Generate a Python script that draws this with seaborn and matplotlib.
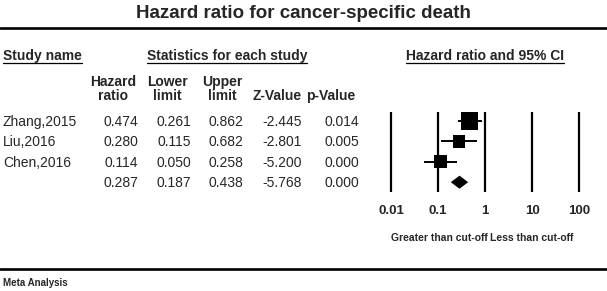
import matplotlib
matplotlib.use("Agg")
import matplotlib.pyplot as plt
import pandas as pd
import seaborn as sns
from matplotlib.lines import Line2D

studies = ["Zhang,2015", "Liu,2016", "Chen,2016", ""]
hazard_ratio = [0.474, 0.280, 0.114, 0.287]
lower_limit = [0.261, 0.115, 0.050, 0.187]
upper_limit = [0.862, 0.682, 0.258, 0.438]
z_value = [-2.445, -2.801, -5.200, -5.768]
p_value = [0.014, 0.005, 0.000, 0.000]
axis_ticks = [0.01, 0.1, 1, 10, 100]
tick_labels = ["0.01", "0.1", "1", "10", "100"]

W, H = 607, 291


def fx(x):
    return x / W


def fy(y):
    return 1 - y / H


sns.set_theme(style="white")
plt.rcParams["font.family"] = ["Liberation Sans", "DejaVu Sans"]

fig = plt.figure(figsize=(W / 100, H / 100), dpi=100)

# title and rules
fig.text(fx(303), fy(13.5), "Hazard ratio for cancer-specific death",
         ha="center", va="center", fontsize=13.5, fontweight="bold")
fig.add_artist(Line2D([0, 1], [fy(28), fy(28)], color="black", lw=1.9))
fig.add_artist(Line2D([0, 1], [fy(269), fy(269)], color="black", lw=1.9))
fig.text(fx(3), fy(283), "Meta Analysis", ha="left", va="center",
         fontsize=7, fontweight="bold")

# section headers (underlined)
headers = [
    fig.text(fx(3), fy(60), "Study name", ha="left", va="baseline",
             fontsize=10, fontweight="bold"),
    fig.text(fx(227), fy(60), "Statistics for each study", ha="center",
             va="baseline", fontsize=10, fontweight="bold"),
    fig.text(fx(485), fy(60), "Hazard ratio and 95% CI", ha="center",
             va="baseline", fontsize=10, fontweight="bold"),
]

col_centers = [113, 167, 222, 277, 331]
col_right = [138, 191, 243, 302, 359]
col_head = [("Hazard", "ratio"), ("Lower", "limit"), ("Upper", "limit"),
            ("", "Z-Value"), ("", "p-Value")]
for xc, (l1, l2) in zip(col_centers, col_head):
    if l1:
        fig.text(fx(xc), fy(86), l1, ha="center", va="baseline",
                 fontsize=10, fontweight="bold")
    fig.text(fx(xc), fy(100), l2, ha="center", va="baseline",
             fontsize=10, fontweight="bold")

row_base = [126, 146, 167, 187]
for i, name in enumerate(studies):
    yb = fy(row_base[i])
    fig.text(fx(3), yb, name, ha="left", va="baseline", fontsize=10)
    vals = [f"{hazard_ratio[i]:.3f}", f"{lower_limit[i]:.3f}",
            f"{upper_limit[i]:.3f}", f"{z_value[i]:.3f}", f"{p_value[i]:.3f}"]
    for xr, v in zip(col_right, vals):
        fig.text(fx(xr), yb, v, ha="right", va="baseline", fontsize=10)

# forest panel
left, right, top, bottom = 371, 599, 100.6, 202.6
ax = fig.add_axes([fx(left), fy(bottom), (right - left) / W, (bottom - top) / H])
ax.set_xscale("log")
half = (right - left) / 2 / 47
ax.set_xlim(10 ** -half, 10 ** half)
ax.set_ylim(4, -1)

n = len(studies) - 1
ax.vlines(axis_ticks, -0.45, 3.5, color="black", lw=1.6)
ax.hlines(range(n), lower_limit[:n], upper_limit[:n], color="black", lw=1.4)

df = pd.DataFrame({"hr": hazard_ratio[:n], "row": range(n)})
box_sizes = [150, 80, 88]
sns.scatterplot(data=df, x="hr", y="row", marker="s", s=box_sizes,
                color="black", linewidth=0, legend=False, ax=ax, zorder=3)

# summary diamond
h = 0.32
ax.fill([lower_limit[n], hazard_ratio[n], upper_limit[n], hazard_ratio[n]],
        [n, n - h, n, n + h], color="black", lw=0, zorder=3)

ax.set_xticks(axis_ticks, tick_labels)
ax.minorticks_off()
ax.set_yticks([])
ax.set_xlabel("")
ax.set_ylabel("")
ax.tick_params(axis="x", length=0, pad=1.8, labelsize=9.5)
for lab in ax.get_xticklabels():
    lab.set_fontweight("bold")
for sp in ax.spines.values():
    sp.set_visible(False)
ax.patch.set_alpha(0)

fig.text(fx(488), fy(238), "Greater than cut-off", ha="right", va="center",
         fontsize=7.5, fontweight="bold")
fig.text(fx(490), fy(238), "Less than cut-off", ha="left", va="center",
         fontsize=7.5, fontweight="bold")

# underline the section headers
fig.canvas.draw()
for t in headers:
    bb = t.get_window_extent()
    fig.add_artist(Line2D([bb.x0 / W, bb.x1 / W], [fy(62.5), fy(62.5)],
                          color="black", lw=0.9))

fig.savefig("out.png", dpi=100, facecolor="white")
